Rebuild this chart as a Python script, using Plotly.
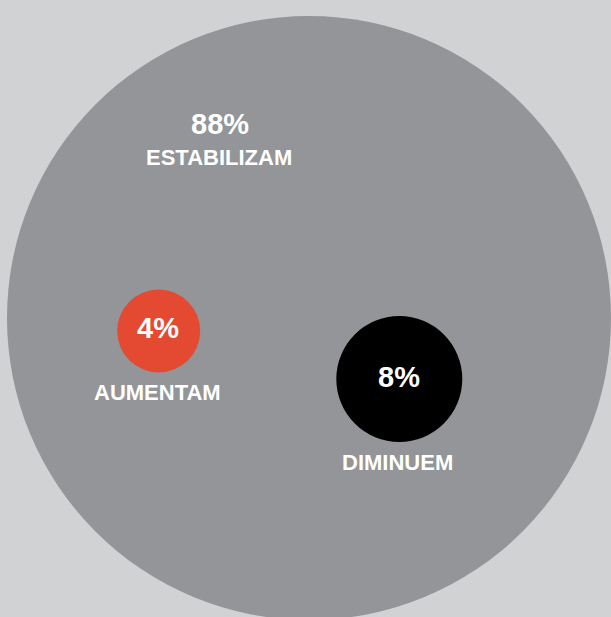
import plotly.graph_objects as go

# Data
categories = ["ESTABILIZAM", "AUMENTAM", "DIMINUEM"]
values = [88, 4, 8]
colors = ["#939598", "#e34a31", "#000000"]

# Layout (pixel coordinates of the bubbles and their labels)
centers_x = [309, 158.7, 399.3]
centers_y = [318, 331, 379]
radii = [302, 41.5, 63]
pct_pos = [(219.7, 124.4), (158.3, 327.8), (399.2, 376.5)]
lab_pos = [(219.2, 157.2), (157.2, 392.3), (397.5, 462.0)]

W, H = 611, 617
fig = go.Figure()

shapes = []
for cx, cy, r, c in zip(centers_x, centers_y, radii, colors):
    shapes.append(dict(type="circle", xref="x", yref="y",
                       x0=cx - r, x1=cx + r, y0=cy - r, y1=cy + r,
                       fillcolor=c, line=dict(width=0), layer="below"))

annotations = []
for (px, py), (lx, ly), v, cat in zip(pct_pos, lab_pos, values, categories):
    annotations.append(dict(x=px, y=py, xref="x", yref="y", text=f"<b>{v}%</b>",
                            showarrow=False, xanchor="center", yanchor="middle",
                            font=dict(family="Liberation Sans", size=29, color="white")))
    annotations.append(dict(x=lx, y=ly, xref="x", yref="y", text=f"<b>{cat}</b>",
                            showarrow=False, xanchor="center", yanchor="middle",
                            font=dict(family="Liberation Sans", size=22, color="white")))

fig.add_trace(go.Scatter(x=[0], y=[0], mode="markers", marker=dict(opacity=0),
                         hoverinfo="skip", showlegend=False))

fig.update_layout(
    width=W, height=H, margin=dict(l=0, r=0, t=0, b=0),
    paper_bgcolor="#d1d2d4", plot_bgcolor="#d1d2d4",
    xaxis=dict(range=[0, W], visible=False, fixedrange=True),
    yaxis=dict(range=[H, 0], visible=False, fixedrange=True),
    shapes=shapes, annotations=annotations, showlegend=False,
)

fig.write_html("out.html", config={"displayModeBar": False})
